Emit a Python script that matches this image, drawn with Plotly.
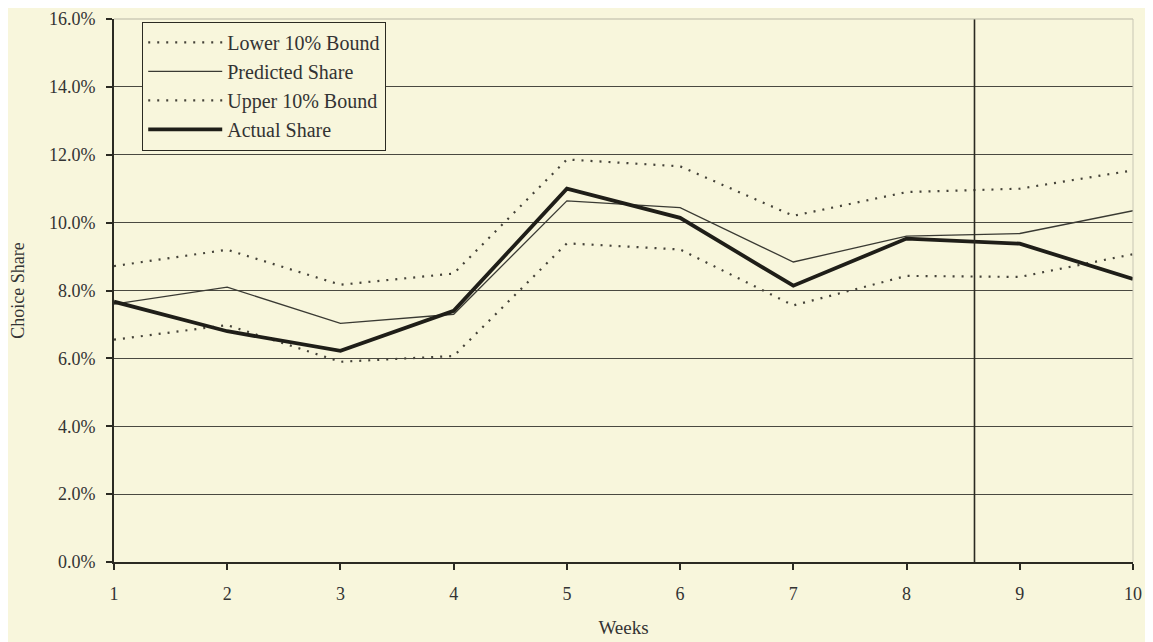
import plotly.graph_objects as go

weeks = [1, 2, 3, 4, 5, 6, 7, 8, 9, 10]
lower_bound = [6.55, 6.98, 5.9, 6.07, 9.39, 9.21, 7.56, 8.43, 8.4, 9.07]
predicted_share = [7.6, 8.1, 7.03, 7.3, 10.64, 10.44, 8.84, 9.6, 9.68, 10.35]
upper_bound = [8.72, 9.2, 8.17, 8.5, 11.86, 11.66, 10.2, 10.9, 11.0, 11.54]
actual_share = [7.67, 6.8, 6.22, 7.4, 11.0, 10.14, 8.14, 9.53, 9.38, 8.34]
cutoff_week = 8.6
y_ticks = [0, 2, 4, 6, 8, 10, 12, 14, 16]

BG = "#f8f6dc"
INK = "#2b2a22"
FONT = "Liberation Serif"

fig = go.Figure()
series = [
    ("Lower 10% Bound", lower_bound, dict(color="#444238", width=2.2, dash="2px,7px")),
    ("Predicted Share", predicted_share, dict(color="#3a3a33", width=1.3)),
    ("Upper 10% Bound", upper_bound, dict(color="#444238", width=2.2, dash="2px,7px")),
    ("Actual Share", actual_share, dict(color="#1f1e18", width=3.8)),
]
for i, (name, vals, line) in enumerate(series):
    fig.add_trace(go.Scatter(x=weeks, y=vals, mode="lines", name=name, line=line,
                             legendgroup=f"g{i}"))

fig.add_shape(type="line", xref="x", yref="paper", x0=cutoff_week, x1=cutoff_week,
              y0=0, y1=1, line=dict(color=INK, width=1.6))
# faint top and right frame
fig.add_shape(type="line", xref="paper", yref="paper", x0=0, x1=1, y0=1, y1=1,
              line=dict(color="#b8b6a4", width=1))
fig.add_shape(type="line", xref="paper", yref="paper", x0=1, x1=1, y0=0, y1=1,
              line=dict(color="#c8c6b4", width=1))

fig.update_layout(
    width=1145, height=634,
    paper_bgcolor=BG, plot_bgcolor=BG,
    margin=dict(l=106, r=20, t=11, b=80, autoexpand=False),
    font=dict(family=FONT, size=18, color="#333"),
    showlegend=True,
    legend=dict(x=0.0275, y=0.995, xanchor="left", yanchor="top",
                bgcolor=BG, bordercolor=INK, borderwidth=1.2,
                font=dict(family=FONT, size=20, color="#333"),
                tracegroupgap=2.5, traceorder="normal", itemwidth=74),
    xaxis=dict(range=[1, 10], tickvals=weeks, showgrid=False, zeroline=False,
               showline=True, linecolor=INK, linewidth=2, automargin=False,
               ticks="outside", ticklen=6, tickcolor=INK, tickwidth=1.5,
               ticklabelstandoff=8, ticklabeloverflow="allow",
               title=dict(text="Weeks", standoff=18, font=dict(size=19))),
    yaxis=dict(range=[0, 16], tickvals=y_ticks,
               ticktext=[f"{v:.1f}%" for v in y_ticks],
               showgrid=True, gridcolor="#4a4940", gridwidth=1.2, zeroline=False,
               showline=True, linecolor=INK, linewidth=2, automargin=False,
               ticks="outside", ticklen=6, tickcolor=INK, tickwidth=1.5,
               ticklabelstandoff=7, ticklabeloverflow="allow",
               title=dict(text="Choice Share", standoff=23, font=dict(size=18))),
)

fig.write_html("out.html")
